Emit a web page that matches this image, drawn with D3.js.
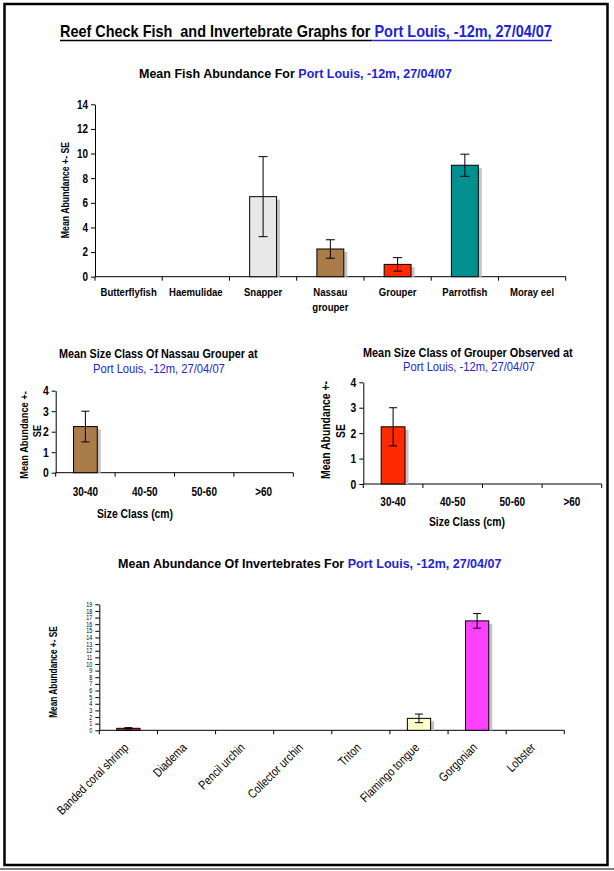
<!DOCTYPE html>
<html>
<head>
<meta charset="utf-8">
<script src="https://cdn.jsdelivr.net/npm/d3@7"></script>
<style>
  body { margin: 0; background: #fff; }
  svg text { font-family: "Liberation Sans Narrow", "Arial Narrow", "Liberation Sans", Arial, sans-serif; }
</style>
</head>
<body>
<svg id="page" width="614" height="871"></svg>
<script>
// ---- data ----
var siteLabel = "Port Louis, -12m, 27/04/07";

var fishCats = ["Butterflyfish", "Haemulidae", "Snapper", "Nassau\ngrouper", "Grouper", "Parrotfish", "Moray eel"];
var fishMeans = [0, 0, 6.5, 2.25, 1.0, 9.05, 0];
var fishSE = [0, 0, 3.25, 0.75, 0.55, 0.9, 0];
var fishColors = ["#ffffff", "#ffffff", "#e8e8e8", "#aa7c4a", "#ff2a00", "#009090", "#ffffff"];
var fishTicks = [0, 2, 4, 6, 8, 10, 12, 14];

var sizeCats = ["30-40", "40-50", "50-60", ">60"];
var nassauMeans = [2.25, 0, 0, 0];
var nassauSE = [0.75, 0, 0, 0];
var grouperMeans = [2.25, 0, 0, 0];
var grouperSE = [0.75, 0, 0, 0];
var sizeTicks = [0, 1, 2, 3, 4];

var invCats = ["Banded coral shrimp", "Diadema", "Pencil urchin", "Collector urchin", "Triton", "Flamingo tongue", "Gorgonian", "Lobster"];
var invMeans = [0.3, 0, 0, 0, 0, 1.8, 16.5, 0];
var invSE = [0.1, 0, 0, 0, 0, 0.65, 1.1, 0];
var invColors = ["#c8302c", "#ffffff", "#ffffff", "#ffffff", "#ffffff", "#ffffcc", "#ff40ff", "#ffffff"];
var invTicks = [0, 1, 2, 3, 4, 5, 6, 7, 8, 9, 10, 11, 12, 13, 14, 15, 16, 17, 18, 19];

var svg = d3.select("#page");
var blue = "#2323d8";
var narrow = 0.83; // the original uses a condensed face

// page frame
svg.append("rect")
    .attr("x", 4.5).attr("y", 4).attr("width", 603).attr("height", 861)
    .attr("fill", "none").attr("stroke", "#000").attr("stroke-width", 2.5);
svg.append("line")
    .attr("x1", 0).attr("x2", 614).attr("y1", 869).attr("y2", 869)
    .attr("stroke", "#000").attr("stroke-width", 1.2);

// title: black lead text + blue site, scaled sideways to a given width
function fitTitle(g, lead, site, x, y, w, size, siteWeight) {
  var t = g.append("text")
      .attr("class", "fitted")
      .style("font-size", size + "px")
      .style("font-weight", "bold")
      .style("white-space", "pre")
      .attr("fill", "#000");
  if (lead) t.append("tspan").text(lead);
  if (site) t.append("tspan").attr("fill", blue)
      .style("font-weight", siteWeight || "bold").text(site);
  var s = w / t.node().getComputedTextLength();
  t.attr("transform", "translate(" + x + "," + y + ") scale(" + s + ",1)");
  return {node: t.node(), scale: s};
}

// main heading, underlined
var lead = "Reef Check Fish  and Invertebrate Graphs for ";
var head = fitTitle(svg, lead, siteLabel, 60, 37, 492, 17);
var split = 60 + head.node.getStartPositionOfChar(lead.length).x * head.scale;
svg.append("line").attr("x1", 60).attr("x2", split - 2).attr("y1", 40.5).attr("y2", 40.5)
    .attr("stroke", "#000").attr("stroke-width", 1.3);
svg.append("line").attr("x1", split - 2).attr("x2", 552).attr("y1", 40.5).attr("y2", 40.5)
    .attr("stroke", blue).attr("stroke-width", 1.3);

function barChart(o) {
  var g = svg.append("g");
  var x = d3.scaleBand().domain(o.cats).range([o.left, o.right])
      .paddingInner(0.6).paddingOuter(0.3);
  var y = d3.scaleLinear().domain([0, o.yMax]).range([o.bottom, o.top]);

  // y axis
  var ya = g.append("g")
      .attr("transform", "translate(" + o.left + ",0)")
      .call(d3.axisLeft(y).tickValues(o.ticks).tickSize(4).tickSizeOuter(0)
        .tickPadding(3).tickFormat(d3.format("d")));
  ya.select(".domain").attr("stroke", "#000");
  ya.selectAll("text")
      .style("font-size", o.tickFont + "px")
      .style("font-weight", o.tickWeight)
      .attr("fill", "#000");

  // category axis with boundary ticks
  g.append("line")
      .attr("x1", o.left).attr("x2", o.right)
      .attr("y1", y(0)).attr("y2", y(0))
      .attr("stroke", "#000");
  var gap = (x.step() - x.bandwidth()) / 2;
  var bounds = o.cats.map(function(c) { return x(c) - gap; }).concat([o.right]);
  g.selectAll(".bt").data(bounds).enter().append("line")
      .attr("x1", function(d) { return d; }).attr("x2", function(d) { return d; })
      .attr("y1", y(0)).attr("y2", y(0) + 4)
      .attr("stroke", "#000");

  var rows = o.cats.map(function(c, i) {
    return {cat: c, v: o.means[i], e: o.errs[i], color: o.colors[i]};
  }).filter(function(d) { return d.v > 0; });

  // shadows, then bars
  g.selectAll(".shadow").data(rows).enter().append("rect")
      .attr("x", function(d) { return x(d.cat) + 3.5; })
      .attr("y", function(d) { return y(d.v) + 3; })
      .attr("width", x.bandwidth())
      .attr("height", function(d) { return Math.max(0, y(0) - y(d.v) - 3); })
      .attr("fill", "#c4c4c4");
  g.selectAll(".bar").data(rows).enter().append("rect")
      .attr("x", function(d) { return x(d.cat); })
      .attr("y", function(d) { return y(d.v); })
      .attr("width", x.bandwidth())
      .attr("height", function(d) { return y(0) - y(d.v); })
      .attr("fill", function(d) { return d.color; })
      .attr("stroke", "#000").attr("stroke-width", 1);

  // error bars
  var cap = o.cap;
  rows.forEach(function(d) {
    var cx = x(d.cat) + x.bandwidth() / 2;
    g.append("line").attr("x1", cx).attr("x2", cx)
        .attr("y1", y(d.v + d.e)).attr("y2", y(d.v - d.e))
        .attr("stroke", "#000");
    [d.v + d.e, d.v - d.e].forEach(function(val) {
      g.append("line").attr("x1", cx - cap / 2).attr("x2", cx + cap / 2)
          .attr("y1", y(val)).attr("y2", y(val))
          .attr("stroke", "#000");
    });
  });

  // category labels
  o.cats.forEach(function(c) {
    var cx = x(c) + x.bandwidth() / 2;
    if (o.rotate) {
      g.append("text")
          .attr("transform", "translate(" + (cx + 1) + "," + (y(0) + 18) + ") rotate(-45)")
          .attr("text-anchor", "end")
          .style("font-size", o.labelFont + "px")
          .style("font-weight", o.labelWeight)
          .text(c);
    } else {
      c.split("\n").forEach(function(line, k) {
        g.append("text")
            .attr("x", cx).attr("y", o.labelY + k * o.labelFont * 1.3)
            .attr("text-anchor", "middle")
            .style("font-size", o.labelFont + "px")
            .style("font-weight", o.labelWeight)
            .text(line);
      });
    }
  });

  // y title (one or more rotated lines)
  o.yTitle.forEach(function(t) {
    g.append("text")
        .attr("transform", "translate(" + t.x + "," + t.y + ") rotate(-90)")
        .attr("text-anchor", "middle")
        .style("font-size", o.yTitleFont + "px")
        .style("font-weight", "bold")
        .text(t.text);
  });

  if (o.xTitle) {
    g.append("text")
        .attr("x", o.xTitle.x).attr("y", o.xTitle.y)
        .attr("text-anchor", "middle")
        .style("font-size", o.xTitle.size + "px")
        .style("font-weight", "bold")
        .text(o.xTitle.text);
  }
  return g;
}

// ---- fish abundance ----
fitTitle(svg, "Mean Fish Abundance For ", siteLabel, 139, 78, 313, 13);
barChart({
  cats: fishCats, means: fishMeans, errs: fishSE, colors: fishColors,
  ticks: fishTicks, yMax: 14,
  left: 95, right: 565.7, top: 104.3, bottom: 276.7,
  tickFont: 12, tickWeight: "bold", cap: 9,
  labelFont: 11.5, labelWeight: "bold", labelY: 296,
  yTitle: [{text: "Mean Abundance +- SE", x: 69, y: 190}], yTitleFont: 10.5
});

// ---- size class of nassau grouper ----
fitTitle(svg, "Mean Size Class Of Nassau Grouper at", null, 59, 358, 199, 12);
fitTitle(svg, null, siteLabel, 93, 373, 132, 12, "normal");
barChart({
  cats: sizeCats, means: nassauMeans, errs: nassauSE, colors: ["#aa7c4a", "#fff", "#fff", "#fff"],
  ticks: sizeTicks, yMax: 4,
  left: 55.7, right: 293.3, top: 390.7, bottom: 472.7,
  tickFont: 12.5, tickWeight: "bold", cap: 8,
  labelFont: 12, labelWeight: "bold", labelY: 495.5,
  yTitle: [{text: "Mean Abundance +-", x: 27.5, y: 435}, {text: "SE", x: 41, y: 431}], yTitleFont: 11.2,
  xTitle: {text: "Size Class (cm)", x: 135, y: 517.5, size: 12.5}
});

// ---- size class of grouper ----
fitTitle(svg, "Mean Size Class of Grouper Observed at", null, 363, 356.5, 210, 12);
fitTitle(svg, null, siteLabel, 403, 371, 132, 12, "normal");
barChart({
  cats: sizeCats, means: grouperMeans, errs: grouperSE, colors: ["#ff2a00", "#fff", "#fff", "#fff"],
  ticks: sizeTicks, yMax: 4,
  left: 363.3, right: 601.7, top: 382.3, bottom: 484,
  tickFont: 12.5, tickWeight: "bold", cap: 8,
  labelFont: 12, labelWeight: "bold", labelY: 506,
  yTitle: [{text: "Mean Abundance +-", x: 329.5, y: 430}, {text: "SE", x: 345, y: 431}], yTitleFont: 12.5,
  xTitle: {text: "Size Class (cm)", x: 467, y: 526, size: 12.5}
});

// ---- invertebrates ----
fitTitle(svg, "Mean Abundance Of Invertebrates For ", siteLabel, 118, 568, 384, 13);
barChart({
  cats: invCats, means: invMeans, errs: invSE, colors: invColors,
  ticks: invTicks, yMax: 19,
  left: 99.3, right: 564.3, top: 604.3, bottom: 730.3,
  tickFont: 6.5, tickWeight: "normal", cap: 8,
  labelFont: 12.5, labelWeight: "normal", rotate: true,
  yTitle: [{text: "Mean Abundance +- SE", x: 57, y: 672}], yTitleFont: 10
});

// condense every label that was not already fitted to a width
svg.selectAll("text").filter(function() { return !this.classList.contains("fitted"); })
  .each(function() {
    var w = this.getComputedTextLength();
    d3.select(this).attr("textLength", w * narrow).attr("lengthAdjust", "spacingAndGlyphs");
  });
</script>
</body>
</html>
